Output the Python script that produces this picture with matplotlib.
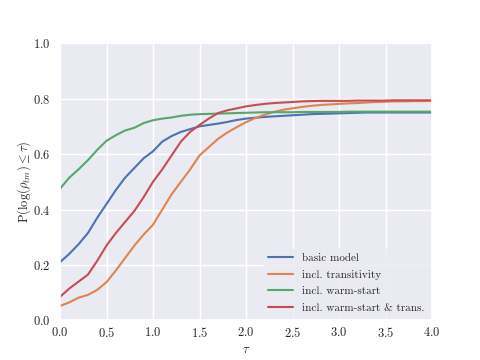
import matplotlib
matplotlib.use("Agg")
import matplotlib.pyplot as plt
import seaborn as sns
import numpy as np

tau = [0.0, 0.1, 0.2, 0.3, 0.4, 0.5, 0.6, 0.7, 0.8, 0.9,
       1.0, 1.1, 1.2, 1.3, 1.4, 1.5, 1.6, 1.7, 1.8, 1.9,
       2.0, 2.1, 2.2, 2.3, 2.4, 2.5, 2.6, 2.7, 2.8, 2.9,
       3.0, 3.1, 3.2, 3.3, 3.4, 3.5, 3.6, 3.7, 3.8, 3.9, 4.0]

basic_model = [0.21, 0.24, 0.275, 0.315, 0.37, 0.42, 0.47, 0.515, 0.55, 0.585,
               0.61, 0.645, 0.665, 0.68, 0.69, 0.70, 0.705, 0.71, 0.716, 0.723,
               0.728, 0.731, 0.734, 0.736, 0.738, 0.740, 0.742, 0.744, 0.745, 0.746,
               0.747, 0.748, 0.749, 0.750, 0.750, 0.750, 0.750, 0.750, 0.750, 0.750, 0.750]

transitivity = [0.052, 0.065, 0.082, 0.092, 0.11, 0.138, 0.18, 0.225, 0.27, 0.31,
                0.345, 0.40, 0.455, 0.50, 0.545, 0.595, 0.625, 0.655, 0.678, 0.697,
                0.715, 0.73, 0.742, 0.752, 0.76, 0.765, 0.77, 0.774, 0.777, 0.779,
                0.781, 0.783, 0.784, 0.786, 0.788, 0.789, 0.790, 0.790, 0.791, 0.791, 0.792]

warm_start = [0.475, 0.515, 0.545, 0.578, 0.615, 0.648, 0.668, 0.685, 0.695, 0.712,
              0.722, 0.728, 0.732, 0.738, 0.742, 0.744, 0.745, 0.746, 0.747, 0.748,
              0.749, 0.750, 0.751, 0.751, 0.751, 0.751, 0.752, 0.752, 0.752, 0.752,
              0.752, 0.753, 0.753, 0.753, 0.753, 0.753, 0.753, 0.753, 0.753, 0.753, 0.753]

warm_trans = [0.085, 0.115, 0.14, 0.165, 0.215, 0.27, 0.315, 0.355, 0.395, 0.445,
              0.50, 0.545, 0.595, 0.645, 0.68, 0.705, 0.728, 0.748, 0.758, 0.765,
              0.772, 0.777, 0.781, 0.784, 0.786, 0.788, 0.790, 0.791, 0.792, 0.792,
              0.792, 0.792, 0.793, 0.793, 0.793, 0.793, 0.794, 0.794, 0.794, 0.794, 0.794]

labels = ["basic model", "incl. transitivity", "incl. warm-start",
          "incl. warm-start & trans."]

sns.set_theme(style="darkgrid")
plt.rcParams["font.family"] = ["cmr10", "DejaVu Serif"]
plt.rcParams["mathtext.fontset"] = "cm"
plt.rcParams["axes.formatter.use_mathtext"] = True
plt.rcParams["axes.unicode_minus"] = False

fig, ax = plt.subplots(figsize=(4.8, 3.6), dpi=100)
colors = sns.color_palette("deep")
for ys, lab, c in zip([basic_model, transitivity, warm_start, warm_trans], labels, colors):
    ax.plot(tau, ys, label=lab, color=c, linewidth=1.5)

ax.set_xlim(0, 4)
ax.set_ylim(0, 1)
ax.set_xticks(np.arange(0, 4.01, 0.5))
ax.set_yticks(np.arange(0, 1.01, 0.2))
ax.tick_params(axis="x", labelsize=9, length=0, pad=4)
ax.tick_params(axis="y", labelsize=9, length=0, pad=7)
ax.set_xlabel(r"$\tau$", fontsize=9, labelpad=3)
ax.set_ylabel(r"$\mathrm{P}(\log(\rho_{tm}) \leq \tau)$", fontsize=9, labelpad=0)
leg = ax.legend(loc="lower right", fontsize=8, labelspacing=0.6,
                handlelength=2.2, borderaxespad=0.3)
leg.get_frame().set_edgecolor("#EAEAF2")

fig.subplots_adjust(left=0.125, right=0.9, bottom=0.11, top=0.88)
fig.savefig("out.png", dpi=100)
